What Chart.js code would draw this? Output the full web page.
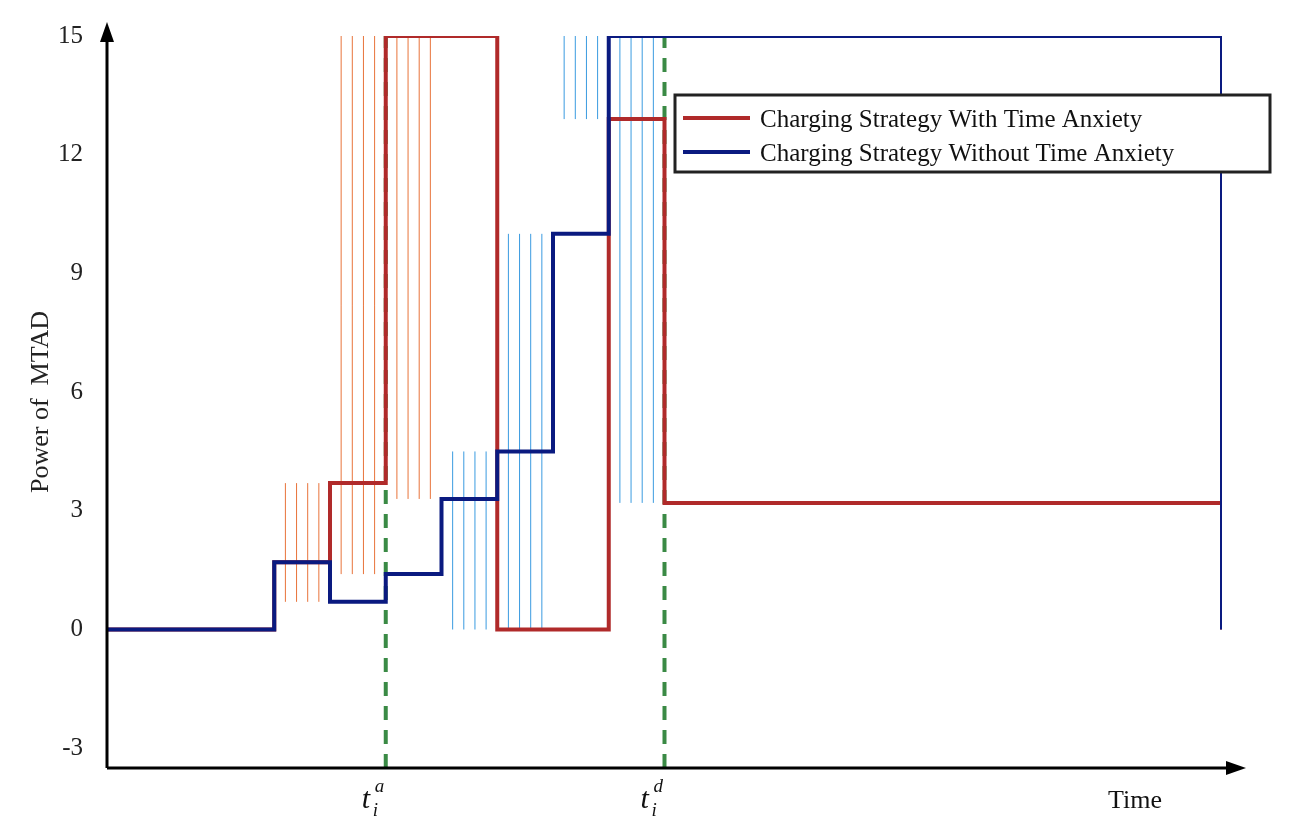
<!DOCTYPE html>
<html><head><meta charset="utf-8">
<script src="https://cdn.jsdelivr.net/npm/chart.js@4"></script>
<style>html,body{margin:0;padding:0;background:#fff}#w{width:1292px;height:836px}</style>
</head><body><div id="w"><canvas id="c"></canvas></div>
<script>
const timeSteps=[0,1,2,3,4,5,6,7,8,9,10,20];
const withAnxiety=[0,0,1.7,3.7,15,15,0,0,12.9,3.2,0,0];
const withoutAnxiety=[0,0,1.7,0.7,1.4,3.3,4.5,10,15,15,0,0];
const yTicks=[-3,0,3,6,9,12,15];
const seriesNames=['Charging Strategy With Time Anxiety','Charging Strategy Without Time Anxiety'];
const markerTimes=[5,10];
const markerSup=['a','d'];
const F='"Liberation Serif", "Times New Roman", serif';
// point at end of each interval holds the interval's value (stepped 'before')
const pts=a=>{const p=[{x:timeSteps[0],y:a[0]}];for(let i=0;i<timeSteps.length-1;i++)p.push({x:timeSteps[i+1],y:a[i]});return p;};
const RED='#b02a2a',BLUE='#0a1a80';
const plug={id:'p',
beforeDatasetsDraw(ch){const c=ch.ctx,xs=ch.scales.x,ys=ch.scales.y;c.save();c.lineWidth=1;
 for(let i=0;i<timeSteps.length-1;i++){if(timeSteps[i+1]-timeSteps[i]!==1)continue;for(let k=1;k<5;k++){const xv=timeSteps[i]+k*0.2;
  const r=withAnxiety[i],b=withoutAnxiety[i];if(r===b)continue;
  c.strokeStyle=r>b?'#e8733a':'#3a9be0';const px=xs.getPixelForValue(xv);
  c.beginPath();c.moveTo(px,ys.getPixelForValue(r));c.lineTo(px,ys.getPixelForValue(b));c.stroke();}}
 c.strokeStyle='#3a8a45';c.lineWidth=4;c.setLineDash([14,10]);
 markerTimes.forEach(t=>{const px=xs.getPixelForValue(t);c.beginPath();c.moveTo(px,ch.chartArea.bottom);c.lineTo(px,ys.getPixelForValue(15));c.stroke();});
 c.restore();},
afterDraw(ch){const c=ch.ctx,xs=ch.scales.x,ys=ch.scales.y,a=ch.chartArea;c.save();
 c.strokeStyle='#000';c.fillStyle='#000';c.lineWidth=3;
 c.beginPath();c.moveTo(a.left,a.bottom);c.lineTo(a.right+8,a.bottom);c.moveTo(a.left,a.bottom);c.lineTo(a.left,a.top-4);c.stroke();
 c.beginPath();c.moveTo(a.right+24,a.bottom);c.lineTo(a.right+4,a.bottom-7);c.lineTo(a.right+4,a.bottom+7);c.fill();
 c.beginPath();c.moveTo(a.left,a.top-14);c.lineTo(a.left-7,a.top+6);c.lineTo(a.left+7,a.top+6);c.fill();
 markerTimes.forEach((t,i)=>{const px=xs.getPixelForValue(t);c.fillStyle='#111';c.textAlign='left';c.textBaseline='alphabetic';
  c.font='italic 30px '+F;c.fillText('t',px-24,a.bottom+40);
  c.font='italic 19px '+F;c.fillText('i',px-13,a.bottom+48);c.fillText(markerSup[i],px-11,a.bottom+24);});
 c.font='26px '+F;c.fillStyle='#111';c.fillText('Time',1108,808);
 c.fillStyle='#fff';c.fillRect(675,95,595,77);c.strokeStyle='#222';c.lineWidth=3;c.strokeRect(675,95,595,77);
 [RED,BLUE].forEach((col,i)=>{const y=118+i*34;c.strokeStyle=col;c.lineWidth=4;c.beginPath();c.moveTo(683,y);c.lineTo(750,y);c.stroke();
  c.fillStyle='#111';c.font='25px '+F;c.textBaseline='middle';c.fillText(seriesNames[i],760,y+2);});
 c.restore();}};
new Chart(document.getElementById('c'),{type:'line',
data:{datasets:[
 {label:seriesNames[0],data:pts(withAnxiety),stepped:'before',borderColor:RED,borderWidth:4,pointRadius:0,order:2},
 {label:seriesNames[1],data:pts(withoutAnxiety),stepped:'before',borderColor:BLUE,borderWidth:4,pointRadius:0,order:1}]},
options:{responsive:true,maintainAspectRatio:false,animation:false,
 layout:{padding:{top:36,right:70,left:22,bottom:0}},
 plugins:{legend:{display:false},tooltip:{enabled:false}},
 scales:{
  x:{type:'linear',min:0,max:20,grid:{display:false},border:{display:false},ticks:{display:false},afterFit(s){s.height=68;}},
  y:{min:-3.5,max:15,grid:{display:false},border:{display:false},
   afterBuildTicks(s){s.ticks=yTicks.map(v=>({value:v}));},
   ticks:{font:{family:F,size:25},color:'#222',padding:16},
   title:{display:true,text:'Power of  MTAD',font:{family:F,size:26},color:'#222'},
   afterFit(s){s.width=85;}}}},
plugins:[plug]});
</script></body></html>
